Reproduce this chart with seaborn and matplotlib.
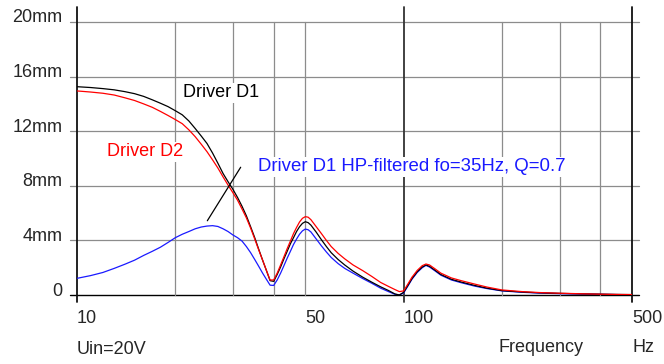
import numpy as np
import pandas as pd
import matplotlib
matplotlib.use("Agg")
import matplotlib.pyplot as plt
import matplotlib.transforms as mtransforms
from matplotlib.ticker import NullLocator
import seaborn as sns

# ---------------- data ----------------
freq = [10, 11, 12, 13, 14, 15, 16, 17, 18, 19, 20, 21, 22, 23, 24, 25, 26, 27, 28, 29,
        30, 31, 32, 33, 34, 35, 36, 37, 38, 39, 40, 41, 42, 43, 44, 45, 46, 47, 48, 49,
        50, 51, 52, 54, 56, 58, 60, 63, 66, 70, 75, 80, 85, 90, 94, 97, 100, 103, 106, 110,
        114, 117, 120, 125, 130, 140, 150, 165, 180, 200, 230, 260, 300, 350, 400, 450, 500]
d1 = [15.26, 15.2, 15.12, 15.03, 14.9, 14.75, 14.55, 14.3, 14.05, 13.8, 13.5, 13.2, 12.75, 12.2, 11.65,
      11.1, 10.4, 9.65, 8.9, 8.3, 7.75, 7.15, 6.5, 5.8, 5.0, 4.2, 3.35, 2.55, 1.8, 1.05,
      1.0, 1.5, 2.05, 2.65, 3.2, 3.75, 4.2, 4.65, 5.0, 5.25, 5.37, 5.3, 5.12, 4.6, 4.05,
      3.55, 3.1, 2.6, 2.2, 1.75, 1.3, 0.93, 0.6, 0.32, 0.08, 0.0, 0.2, 0.7, 1.2, 1.7,
      2.05, 2.2, 2.1, 1.8, 1.5, 1.15, 0.95, 0.7, 0.5, 0.32, 0.22, 0.16, 0.12, 0.08, 0.06,
      0.04, 0.03]
d2 = [14.95, 14.87, 14.78, 14.65, 14.45, 14.25, 14.0, 13.75, 13.45, 13.15, 12.85, 12.55, 12.1, 11.6, 11.05,
      10.5, 9.9, 9.3, 8.65, 8.05, 7.5, 6.95, 6.3, 5.65, 4.9, 4.1, 3.3, 2.55, 1.8, 1.1,
      1.1, 1.6, 2.2, 2.8, 3.4, 3.95, 4.5, 4.95, 5.35, 5.62, 5.74, 5.7, 5.52, 5.0, 4.5,
      4.0, 3.55, 3.05, 2.65, 2.2, 1.78, 1.35, 0.92, 0.62, 0.4, 0.25, 0.3, 0.8, 1.3, 1.8,
      2.15, 2.27, 2.2, 1.9, 1.6, 1.25, 1.05, 0.8, 0.58, 0.37, 0.25, 0.18, 0.13, 0.09, 0.06,
      0.04, 0.03]
d1_hp = [1.22, 1.42, 1.65, 1.95, 2.25, 2.55, 2.9, 3.2, 3.5, 3.85, 4.2, 4.45, 4.65, 4.85, 4.98,
         5.05, 5.08, 5.02, 4.85, 4.65, 4.4, 4.2, 3.95, 3.55, 3.1, 2.6, 2.1, 1.6, 1.15, 0.72,
         0.7, 1.1, 1.6, 2.15, 2.7, 3.2, 3.7, 4.1, 4.45, 4.7, 4.83, 4.78, 4.62, 4.1, 3.6,
         3.15, 2.75, 2.3, 1.95, 1.6, 1.2, 0.85, 0.5, 0.24, 0.05, 0.0, 0.15, 0.65, 1.15, 1.65,
         2.0, 2.17, 2.05, 1.75, 1.45, 1.1, 0.9, 0.65, 0.47, 0.3, 0.2, 0.14, 0.1, 0.07, 0.05,
         0.03, 0.02]

series_names = ["Driver D1 HP-filtered fo=35Hz, Q=0.7", "Driver D1", "Driver D2"]
series_colors = ["#1a1aff", "#000000", "#ff0000"]
y_ticks = [0, 4, 8, 12, 16, 20]
y_labels = ["0", "4mm", "8mm", "12mm", "16mm", "20mm"]
x_ticks = [10, 50, 100, 500]
x_labels = ["10", "50", "100", "500"]
x_grid = [20, 30, 40, 50, 200, 300, 400]
x_major = [10, 100, 500]

df = pd.concat([
    pd.DataFrame({"f": freq, "x": d1_hp, "s": series_names[0]}),
    pd.DataFrame({"f": freq, "x": d1, "s": series_names[1]}),
    pd.DataFrame({"f": freq, "x": d2, "s": series_names[2]}),
])

# ---------------- figure ----------------
sns.set_style("white")
plt.rcParams["font.family"] = ["Liberation Sans", "DejaVu Sans"]
FS = 13

fig = plt.figure(figsize=(6.64, 3.64), dpi=100)
ax = fig.add_axes([77 / 664, 1 - 295 / 364, 555 / 664, 273 / 364])
ax.set_xscale("log")
ax.set_xlim(10, 500)
ax.set_ylim(0, 20)
for sp in ax.spines.values():
    sp.set_visible(False)

ytr = ax.get_yaxis_transform()
xtr = ax.get_xaxis_transform()
# horizontal grid lines
for yv in y_ticks:
    ax.plot([-0.0126, 1.0126], [yv, yv], transform=ytr, clip_on=False,
            color="black" if yv == 0 else "#8c8c8c", lw=1.0 if yv == 0 else 0.9, zorder=1)
# vertical grid lines
for xv in x_grid:
    ax.plot([xv, xv], [0, 1], transform=xtr, clip_on=False, color="#8c8c8c", lw=0.9, zorder=1)
for xv in x_major:
    ax.plot([xv, xv], [-0.0256, 1.055], transform=xtr, clip_on=False,
            color="#111111" if xv != 100 else "#333333", lw=1.3, zorder=1)

sns.lineplot(data=df, x="f", y="x", hue="s", hue_order=series_names,
             palette=series_colors, ax=ax, legend=False, lw=0.9, sort=False,
             estimator=None, zorder=4)

# ticks
ax.xaxis.set_minor_locator(NullLocator())
ax.set_xticks(x_ticks)
ax.set_xticklabels(x_labels, fontsize=FS)
ax.set_yticks(y_ticks)
ax.set_yticklabels(y_labels, fontsize=FS)
ax.tick_params(axis="both", length=0)
ax.tick_params(axis="y", pad=10.5)
ax.tick_params(axis="x", pad=10.5)
for lab in ax.get_xticklabels():
    lab.set_horizontalalignment("left")
yoff = mtransforms.ScaledTranslation(0, 6 / 100, fig.dpi_scale_trans)
for lab in ax.get_yticklabels():
    lab.set_transform(lab.get_transform() + yoff)
ax.set_xlabel("")
ax.set_ylabel("")

# series labels
bb = dict(facecolor="white", edgecolor="none", pad=1.0)
ax.text(21.1, 14.8, "Driver D1", color="black", fontsize=FS, va="center", ha="left", bbox=bb, zorder=3)
ax.text(12.33, 10.48, "Driver D2", color="#ff0000", fontsize=FS, va="center", ha="left", bbox=bb, zorder=3)
ax.text(35.8, 9.38, series_names[0], color="#1a1aff", fontsize=13.4, va="center", ha="left", bbox=bb, zorder=3)
ax.annotate("", xy=(25.06, 5.44), xytext=(31.7, 9.36),
            arrowprops=dict(arrowstyle="-", color="black", lw=0.9, shrinkA=0, shrinkB=0), zorder=5)

# bottom texts
ax.text(0.0, -55 / 273, "Uin=20V", transform=ax.transAxes, fontsize=FS, ha="left", va="center")
ax.text(0.836, -53 / 273, "Frequency", transform=ax.transAxes, fontsize=FS, ha="center", va="center")
ax.text(1.0, -53 / 273, "Hz", transform=ax.transAxes, fontsize=FS, ha="left", va="center")

fig.savefig("out.png", dpi=100)
